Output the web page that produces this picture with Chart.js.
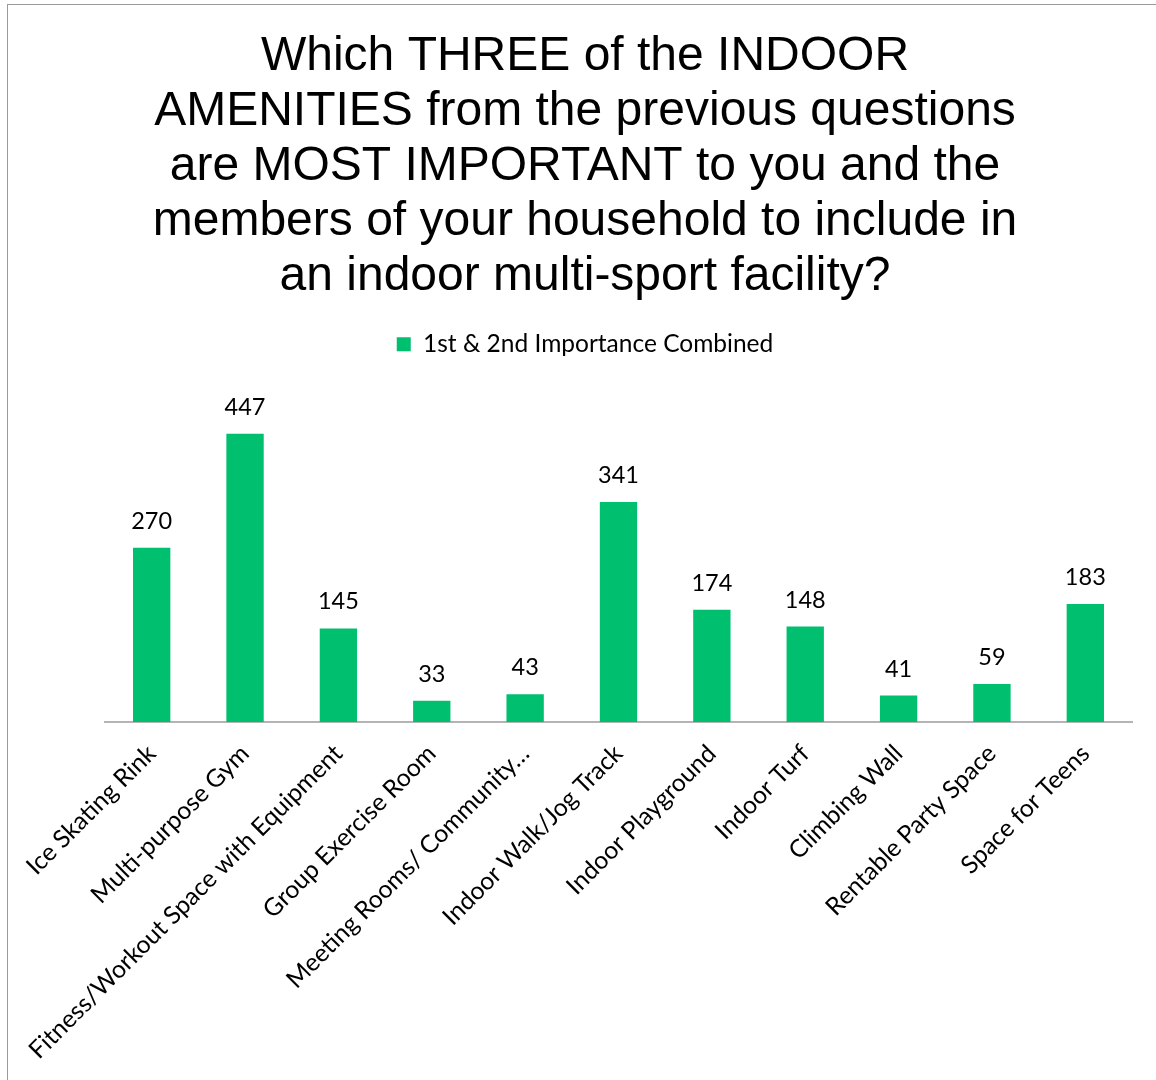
<!DOCTYPE html>
<html>
<head>
<meta charset="utf-8">
<script src="https://cdn.jsdelivr.net/npm/chart.js@4.4.1/dist/chart.umd.min.js"></script>
<style>
  html, body { margin: 0; padding: 0; background: #fff; overflow: hidden; }
  #frame { position: absolute; left: 7px; top: 4px; width: 3000px; height: 3000px;
           border-left: 1px solid #9a9a9a; border-top: 1px solid #9a9a9a; }
  #chart { position: absolute; left: 0; top: 0; }
</style>
</head>
<body>
<div id="frame"></div>
<canvas id="chart" width="1156" height="1080"></canvas>
<script>
const titleLines = [
  'Which THREE of the INDOOR',
  'AMENITIES from the previous questions',
  'are MOST IMPORTANT to you and the',
  'members of your household to include in',
  'an indoor multi-sport facility?'
];
const seriesName = '1st & 2nd Importance Combined';
const categories = [
  'Ice Skating Rink',
  'Multi-purpose Gym',
  'Fitness/Workout Space with Equipment',
  'Group Exercise Room',
  'Meeting Rooms/ Community…',
  'Indoor Walk/Jog Track',
  'Indoor Playground',
  'Indoor Turf',
  'Climbing Wall',
  'Rentable Party Space',
  'Space for Teens'
];
const combinedCounts = [270, 447, 145, 33, 43, 341, 174, 148, 41, 59, 183];
const axisMax = 500;

const BAR_GREEN = '#00C06F';
const LABEL_FONT = 'Lato, "Open Sans", sans-serif';

// Writes each bar's count just above the bar
const valueLabels = {
  id: 'valueLabels',
  afterDatasetsDraw(chart) {
    const ctx = chart.ctx;
    const meta = chart.getDatasetMeta(0);
    const values = chart.data.datasets[0].data;
    ctx.save();
    ctx.font = '23.5px ' + LABEL_FONT;
    ctx.fillStyle = '#000';
    ctx.textAlign = 'center';
    ctx.textBaseline = 'alphabetic';
    meta.data.forEach((bar, i) => {
      ctx.fillText(String(values[i]), bar.x, bar.y - 19);
    });
    ctx.restore();
  }
};

// Leaves extra room between the legend and the plot
const legendGap = {
  id: 'legendGap',
  beforeInit(chart) {
    const legend = chart.legend;
    const baseFit = legend.fit;
    legend.fit = function () {
      baseFit.call(this);
      this.height += 33;
    };
  }
};

new Chart(document.getElementById('chart'), {
  type: 'bar',
  data: {
    labels: categories,
    datasets: [{
      label: seriesName,
      data: combinedCounts,
      backgroundColor: BAR_GREEN,
      borderWidth: 0,
      categoryPercentage: 1,
      barPercentage: 0.4
    }]
  },
  options: {
    responsive: false,
    animation: false,
    layout: { padding: { left: 38, right: 24, top: 0, bottom: 0 } },
    plugins: {
      title: {
        display: true,
        text: titleLines,
        color: '#000',
        font: { family: '"Liberation Sans", Arial, sans-serif', size: 48, weight: 'normal', lineHeight: 1.146 },
        padding: { top: 29, bottom: 8 }
      },
      legend: {
        display: true,
        position: 'top',
        labels: {
          color: '#000',
          font: { family: LABEL_FONT, size: 24.5 },
          boxWidth: 14,
          boxHeight: 14,
          padding: 20
        }
      },
      tooltip: { enabled: false }
    },
    scales: {
      x: {
        grid: { display: false, drawTicks: false },
        border: { display: true, color: '#b4b4b4', width: 2 },
        ticks: {
          color: '#000',
          font: { family: LABEL_FONT, size: 24.7 },
          maxRotation: 45,
          minRotation: 45,
          autoSkip: false,
          padding: 17
        },
        afterFit(scale) { scale.height = 1080 - 722; }
      },
      y: {
        display: true,
        min: 0,
        max: axisMax,
        grid: { display: false, drawTicks: false },
        border: { display: false },
        ticks: { display: false },
        afterFit(scale) { scale.width = 67; }
      }
    }
  },
  plugins: [valueLabels, legendGap]
});
</script>
</body>
</html>
